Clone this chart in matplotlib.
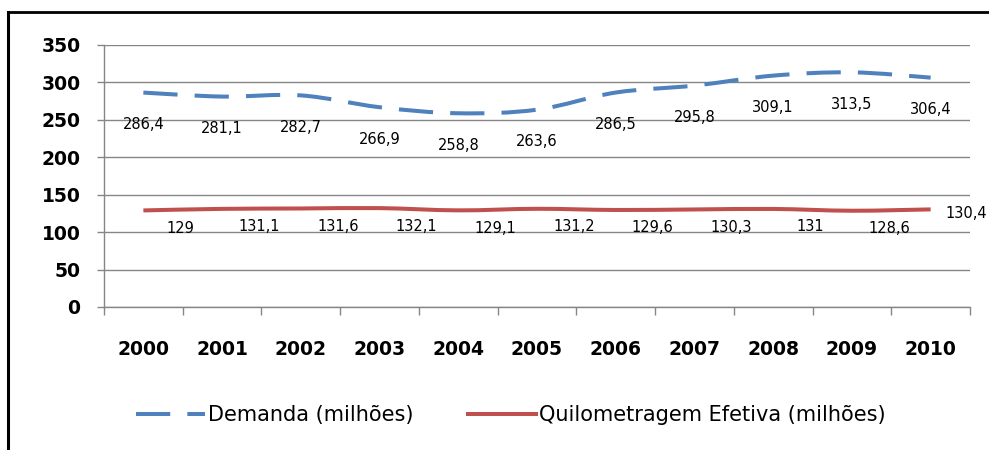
import numpy as np
import matplotlib
matplotlib.use("Agg")
import matplotlib.pyplot as plt
from matplotlib.path import Path
from matplotlib.patches import PathPatch
from matplotlib.lines import Line2D

years = ["2000", "2001", "2002", "2003", "2004", "2005",
         "2006", "2007", "2008", "2009", "2010"]
demanda = [286.4, 281.1, 282.7, 266.9, 258.8, 263.6, 286.5, 295.8, 309.1, 313.5, 306.4]
quilometragem = [129, 131.1, 131.6, 132.1, 129.1, 131.2, 129.6, 130.3, 131, 128.6, 130.4]

BLUE = "#4F81BD"
RED = "#C0504D"
GRID = "#868686"

plt.rcParams["font.family"] = ["DejaVu Sans"]


def smooth_path(xs, ys):
    # Catmull-Rom style bezier, like Excel's smoothed line
    pts = np.column_stack([xs, ys]).astype(float)
    ext = np.vstack([pts[0], pts, pts[-1]])
    verts = [pts[0]]
    codes = [Path.MOVETO]
    for i in range(len(pts) - 1):
        p0, p1, p2, p3 = ext[i], ext[i + 1], ext[i + 2], ext[i + 3]
        c1 = p1 + (p2 - p0) / 6.0
        c2 = p2 - (p3 - p1) / 6.0
        verts += [c1, c2, p2]
        codes += [Path.CURVE4] * 3
    return Path(verts, codes)


def fmt(v):
    return f"{v:g}".replace(".", ",")


fig = plt.figure(figsize=(9.89, 4.5), dpi=100)
ax = fig.add_axes([104 / 989, 1 - 307 / 450, (970 - 104) / 989, (307 - 45) / 450])

x = np.arange(len(years))
dash = (0, (8.5, 4.25))

ax.add_patch(PathPatch(smooth_path(x, demanda), fill=False, edgecolor=BLUE,
                       lw=2.9, linestyle=dash, capstyle="butt", zorder=3))
ax.add_patch(PathPatch(smooth_path(x, quilometragem), fill=False, edgecolor=RED,
                       lw=2.9, capstyle="butt", zorder=3))

# data labels
for xi, v in zip(x, demanda):
    ax.annotate(fmt(v), (xi, v), xytext=(0, -32), textcoords="offset pixels",
                ha="center", va="center", fontsize=10.5, annotation_clip=False)
for i, (xi, v) in enumerate(zip(x, quilometragem)):
    off = (37, -18) if i < len(x) - 1 else (36, -4)
    ax.annotate(fmt(v), (xi, v), xytext=off, textcoords="offset pixels",
                ha="center", va="center", fontsize=10.5, annotation_clip=False)

ax.set_xlim(-0.5, len(years) - 0.5)
ax.set_ylim(0, 350)
ax.set_yticks(np.arange(0, 351, 50))
ax.yaxis.grid(True, color=GRID, lw=1)
ax.set_axisbelow(True)

ax.set_xticks(np.arange(-0.5, len(years), 1.0))
ax.set_xticklabels([])
ax.set_xticks(x, minor=True)
ax.set_xticklabels(years, minor=True, fontsize=13.5, fontweight="bold")
ax.tick_params(axis="x", which="major", length=6, width=1, color=GRID, direction="out")
ax.tick_params(axis="x", which="minor", length=0, pad=24)
ax.tick_params(axis="y", length=5, width=1, color=GRID, pad=12, labelsize=13.5)
for lbl in ax.get_yticklabels():
    lbl.set_fontweight("bold")

for side in ["top", "right"]:
    ax.spines[side].set_visible(False)
for side in ["left", "bottom"]:
    ax.spines[side].set_color(GRID)
    ax.spines[side].set_linewidth(1)

handles = [Line2D([], [], color=BLUE, lw=2.9, linestyle=dash),
           Line2D([], [], color=RED, lw=2.9)]
fig.legend(handles, ["Demanda (milhões)", "Quilometragem Efetiva (milhões)"],
           loc="center", bbox_to_anchor=(511 / 989, 1 - 415 / 450), ncol=2,
           frameon=False, fontsize=15, handlelength=3.3, handletextpad=0.15,
           columnspacing=2.6)

# outer frame (partly cropped in original)
fig.add_artist(Line2D([8 / 989, 1], [1 - 12 / 450, 1 - 12 / 450],
                      transform=fig.transFigure, color="black", lw=2))
fig.add_artist(Line2D([8 / 989, 8 / 989], [0, 1 - 12 / 450],
                      transform=fig.transFigure, color="black", lw=2.2))

fig.savefig("out.png", dpi=100)
